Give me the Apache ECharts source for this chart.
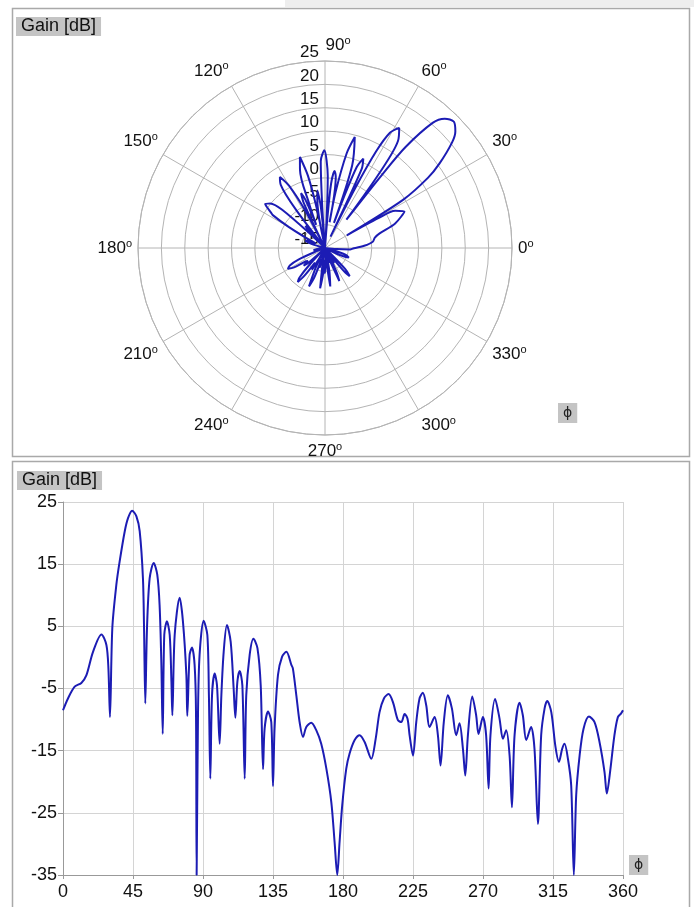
<!DOCTYPE html>
<html>
<head>
<meta charset="utf-8">
<script src="https://cdn.jsdelivr.net/npm/echarts@6/dist/echarts.min.js"></script>
<style>
html, body { margin: 0; padding: 0; background: #fff; }
#main { width: 694px; height: 907px; }
</style>
</head>
<body>
<div id="main"></div>
<script>
// 方位角 phi [deg]
var phi = [0, 3.2, 7.5, 11.8, 15.0, 19.3, 24.7, 27.9, 29.2, 30.2, 31.7, 34.3, 36.4, 39.7, 41.8, 44.4,
    47.2, 49.3, 51.4, 52.1, 52.9, 54.0, 55.7, 58.3, 60.6, 62.1, 63.2, 64.1, 65.1, 66.8, 68.6, 69.7,
    70.3, 71.8, 75.0, 77.1, 79.3, 79.9, 81.4, 82.9, 84.6, 85.5, 85.9, 86.8, 87.8, 90.4, 92.8, 93.8,
    94.7, 95.8, 97.5, 99.0, 100.7, 101.8, 103.3, 105.4, 107.8, 109.7, 110.8, 112.1, 113.6, 115.3,
    116.8, 117.8, 120.0, 122.4, 125.0, 127.1, 128.6, 129.6, 131.8, 133.9, 135.0, 136.0, 138.2, 140.8,
    143.6, 146.8, 147.8, 150.0, 152.1, 154.3, 156.4, 159.6, 162.8, 166.0, 169.3, 172.5, 174.6, 176.3,
    177.8, 179.5, 182.1, 184.2, 187.5, 190.7, 193.9, 198.2, 201.0, 203.5, 206.3, 209.3, 212.1, 215.3,
    217.5, 219.6, 221.5, 222.8, 225.0, 227.1, 229.2, 231.3, 233.5, 235.6, 238.9, 241.0, 242.7, 244.8,
    247.4, 250.0, 252.8, 254.9, 257.1, 258.6, 260.3, 263.1, 265.6, 267.1, 269.9, 272.0, 273.6, 274.8,
    277.8, 280.6, 282.8, 284.9, 287.1, 288.6, 290.3, 293.5, 295.6, 297.8, 300.9, 303.1, 305.3, 307.4,
    309.6, 311.3, 313.9, 316.6, 318.8, 320.9, 322.4, 324.6, 326.7, 328.4, 329.9, 332.1, 334.6, 338.1,
    341.7, 344.9, 348.1, 349.6, 351.7, 354.5, 356.7, 358.8, 360];
// 增益 Gain [dB]
var gain = [-8.5, -6.6, -4.7, -4.1, -2.9, 0.9, 3.7, 2.0, -1.8, -9.6, 4.7, 11.7, 15.4, 20.3, 22.4, 23.6,
    22.7, 20.3, 12.7, 4.7, -7.4, 4.7, 12.7, 15.2, 13.3, 8.4, -0.7, -12.3, 3.6, 5.8, 3.6, -3.9,
    -9.3, 3.6, 9.6, 5.8, -2.8, -9.4, 0.4, 1.6, -1.2, -8.8, -35, -8.8, 0.4, 5.9, 3.6, -6.1,
    -19.5, -6.1, -2.6, -4.5, -13.9, -6.1, 0.9, 5.2, 2.5, -5.0, -9.7, -3.9, -2.2, -4.5,
    -19.5, -6.1, 0.4, 3.0, 1.5, -4.5, -18.0, -11.5, -8.7, -10.4, -20.7, -11.5, -2.8, 0.1,
    0.9, -1.2, -1.8, -6.1, -10.4, -12.8, -11.2, -10.5, -11.7, -13.9, -17.9, -23.3, -29.7, -35,
    -29.7, -23.8, -17.9, -15.5, -13.3, -12.5, -13.6, -16.3, -13.1, -8.8, -6.6, -5.9, -7.2, -10.1,
    -10.4, -9.1, -9.9, -12.5, -15.8, -10.4, -6.6, -5.7, -7.7, -11.2, -9.6, -12.5, -17.4, -10.4,
    -6.1, -8.2, -12.5, -10.6, -14.7, -19.0, -12.5, -6.3, -9.3, -12.3, -9.6, -12.5, -21.1, -12.5,
    -6.7, -9.8, -13.1, -11.7, -15.8, -24.1, -12.5, -7.3, -9.3, -13.3, -11.2, -14.7, -26.8, -12.5,
    -8.2, -7.0, -8.8, -14.4, -16.8, -14.7, -13.9, -16.3, -20.6, -35, -22.2, -15.8, -11.5, -9.5,
    -10.4, -13.6, -18.4, -21.9, -18.4, -12.5, -9.6, -9.0, -8.5];

// 刻度
var phiTicks = [0, 45, 90, 135, 180, 225, 270, 315, 360];
var gainTicks = [-35, -25, -15, -5, 5, 15, 25];
var angleTicks = [0, 30, 60, 90, 120, 150, 180, 210, 240, 270, 300, 330];
var ringTicks = [-15, -10, -5, 0, 5, 10, 15, 20, 25];

var font = 'Liberation Sans, Arial, sans-serif';
var lineColor = '#1c1cb4';
var gridColor = '#b4b4b4';

var myChart = echarts.init(document.getElementById('main'));

var polarMin = ringTicks[0];
var polarData = phi.map(function (p, i) { return [Math.max(gain[i], polarMin), p]; });
var lineData = phi.map(function (p, i) { return [p, gain[i]]; });

var boxText = {
    fontSize: 18, fontWeight: 'normal', color: '#111', fontFamily: font, lineHeight: 19
};

var option = {
    animation: false,
    backgroundColor: '#fff',
    textStyle: { fontFamily: font },
    title: [
        { text: 'Gain [dB]', left: 16, top: 17, padding: [0, 5], backgroundColor: '#c4c4c4', textStyle: boxText },
        { text: 'Gain [dB]', left: 17, top: 471, padding: [0, 5], backgroundColor: '#c4c4c4', textStyle: boxText },
        { text: 'ϕ', left: 558, top: 403, padding: [3, 5], backgroundColor: '#c4c4c4',
          textStyle: { fontSize: 14, fontWeight: 'normal', color: '#222', fontFamily: 'DejaVu Sans', lineHeight: 14 } },
        { text: 'ϕ', left: 629, top: 855, padding: [3, 5], backgroundColor: '#c4c4c4',
          textStyle: { fontSize: 14, fontWeight: 'normal', color: '#222', fontFamily: 'DejaVu Sans', lineHeight: 14 } }
    ],
    graphic: [
        { type: 'rect', silent: true, z: -10, shape: { x: 285, y: 0, width: 409, height: 7 }, style: { fill: '#eeeeee' } },
        { type: 'rect', silent: true, shape: { x: 12.5, y: 8.5, width: 677, height: 448 },
          style: { fill: 'none', stroke: '#a9a9a9', lineWidth: 1.5 } },
        { type: 'rect', silent: true, shape: { x: 12.5, y: 461.5, width: 677, height: 460 },
          style: { fill: 'none', stroke: '#a9a9a9', lineWidth: 1.5 } }
    ],
    polar: [
        { center: [325, 248], radius: 187 },
        { center: [325, 248], radius: 187 }
    ],
    angleAxis: [
        {
            polarIndex: 0,
            type: 'value',
            min: angleTicks[0],
            max: 360,
            interval: 30,
            startAngle: 0,
            clockwise: false,
            axisLine: { lineStyle: { color: gridColor, width: 1 } },
            axisTick: { show: false },
            splitLine: { show: true, lineStyle: { color: gridColor, width: 1 } },
            axisLabel: {
                margin: 6,
                color: '#111',
                formatter: function (v) {
                    if (v === 360) return '';
                    return (v === 90 ? '{p|' : '{a|') + v + '}{s|o}';
                },
                rich: {
                    a: { fontSize: 17, color: '#111', fontFamily: font, lineHeight: 20 },
                    p: { fontSize: 17, color: '#111', fontFamily: font, lineHeight: 20, padding: [0, 0, 0, 26] },
                    s: { fontSize: 11, color: '#111', fontFamily: font, verticalAlign: 'top', lineHeight: 12 }
                }
            }
        },
        {
            polarIndex: 1,
            type: 'value',
            min: 0,
            max: 360,
            startAngle: 90,
            clockwise: false,
            show: false
        }
    ],
    radiusAxis: [
        {
            polarIndex: 0,
            type: 'value',
            min: ringTicks[0],
            max: ringTicks[ringTicks.length - 1],
            interval: 5,
            axisLine: { show: false },
            axisTick: { show: false },
            axisLabel: { show: false },
            splitLine: { show: true, lineStyle: { color: gridColor, width: 1 } }
        },
        {
            polarIndex: 1,
            type: 'value',
            min: ringTicks[0],
            max: ringTicks[ringTicks.length - 1],
            interval: 5,
            axisLine: { show: false },
            axisTick: { show: false },
            splitLine: { show: false },
            axisLabel: { fontSize: 17, color: '#111', margin: 6, verticalAlign: 'bottom' }
        }
    ],
    grid: { left: 63, right: 71, top: 502, bottom: 32 },
    xAxis: {
        type: 'value',
        min: phiTicks[0],
        max: phiTicks[phiTicks.length - 1],
        interval: 45,
        axisLine: { onZero: false, lineStyle: { color: '#999' } },
        axisTick: { show: true, length: 4, lineStyle: { color: '#999' } },
        axisLabel: { fontSize: 18, color: '#111', margin: 8 },
        splitLine: { show: true, lineStyle: { color: '#d4d4d4', width: 1 } }
    },
    yAxis: {
        type: 'value',
        min: gainTicks[0],
        max: gainTicks[gainTicks.length - 1],
        interval: 10,
        axisLine: { show: true, onZero: false, lineStyle: { color: '#999' } },
        axisTick: { show: true, length: 5, lineStyle: { color: '#999' } },
        axisLabel: { fontSize: 18, color: '#111', margin: 6 },
        splitLine: { show: true, lineStyle: { color: '#d4d4d4', width: 1 } }
    },
    series: [
        {
            name: 'polar',
            type: 'line',
            coordinateSystem: 'polar',
            polarIndex: 0,
            data: polarData,
            showSymbol: false,
            smooth: 0.3,
            lineStyle: { color: lineColor, width: 2 }
        },
        {
            name: 'gain',
            type: 'line',
            xAxisIndex: 0,
            yAxisIndex: 0,
            data: lineData,
            showSymbol: false,
            smooth: 0.3,
            lineStyle: { color: lineColor, width: 2 }
        }
    ]
};

myChart.setOption(option);
</script>
</body>
</html>
